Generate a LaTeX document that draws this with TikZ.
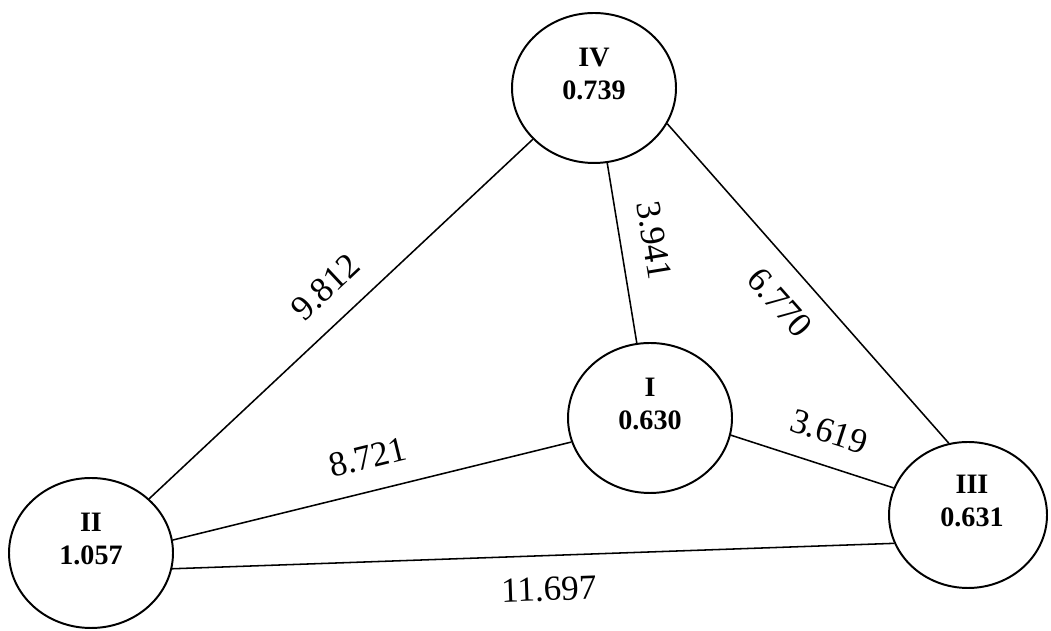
\documentclass[tikz,border=0pt]{standalone}
\usepackage{fontspec}
\setmainfont{Liberation Serif}
\usetikzlibrary{shapes.geometric}

\begin{document}
\begin{tikzpicture}[
    station/.style={ellipse, draw, line width=1.4pt, minimum width=4.1cm, minimum height=3.75cm, inner sep=0pt},
    stationtext/.style={font=\fontsize{20}{23.5}\selectfont\bfseries, align=center},
    link/.style={line width=1.1pt},
    dist/.style={font=\fontsize{25}{27}\selectfont, sloped, inner sep=0.53cm}
]
    \useasboundingbox (0,0) rectangle (26.275,15.775);

    % 四个圆形节点
    \node[station] (IV) at (14.85,13.575) {};
    \node[station] (I) at (16.25,5.325) {};
    \node[station] (II) at (2.275,1.95) {};
    \node[station, minimum width=3.95cm, minimum height=3.65cm] (III) at (24.2,2.9) {};

    % 节点编号与数值
    \node[stationtext] (IVt) at ([yshift=0.35cm]IV.center) {IV\\0.739};
    \node[stationtext] (It) at ([yshift=0.35cm]I.center) {I\\0.630};
    \node[stationtext] (IIt) at ([yshift=0.35cm]II.center) {II\\1.057};
    \node[stationtext] (IIIt) at ([xshift=0.1cm,yshift=0.35cm]III.center) {III\\0.631};

    % 连线与距离
    \draw[link] (II.43) -- node[dist, above, pos=0.52] {9.812} (IV.220);
    \draw[link] (IV.280) -- node[dist, above, pos=0.46] {3.941} (I.100);
    \draw[link] (IV.334) -- node[dist, below, pos=0.49] {6.770} (III.105);
    \draw[link] (II.9) -- node[dist, above, pos=0.51] {8.721} (I.197);
    \draw[link] (I.348) -- node[dist, above, pos=0.54] {3.619} (III.160);
    \draw[link] (II.349) -- node[dist, below, pos=0.52] {11.697} (III.201);
\end{tikzpicture}
\end{document}
